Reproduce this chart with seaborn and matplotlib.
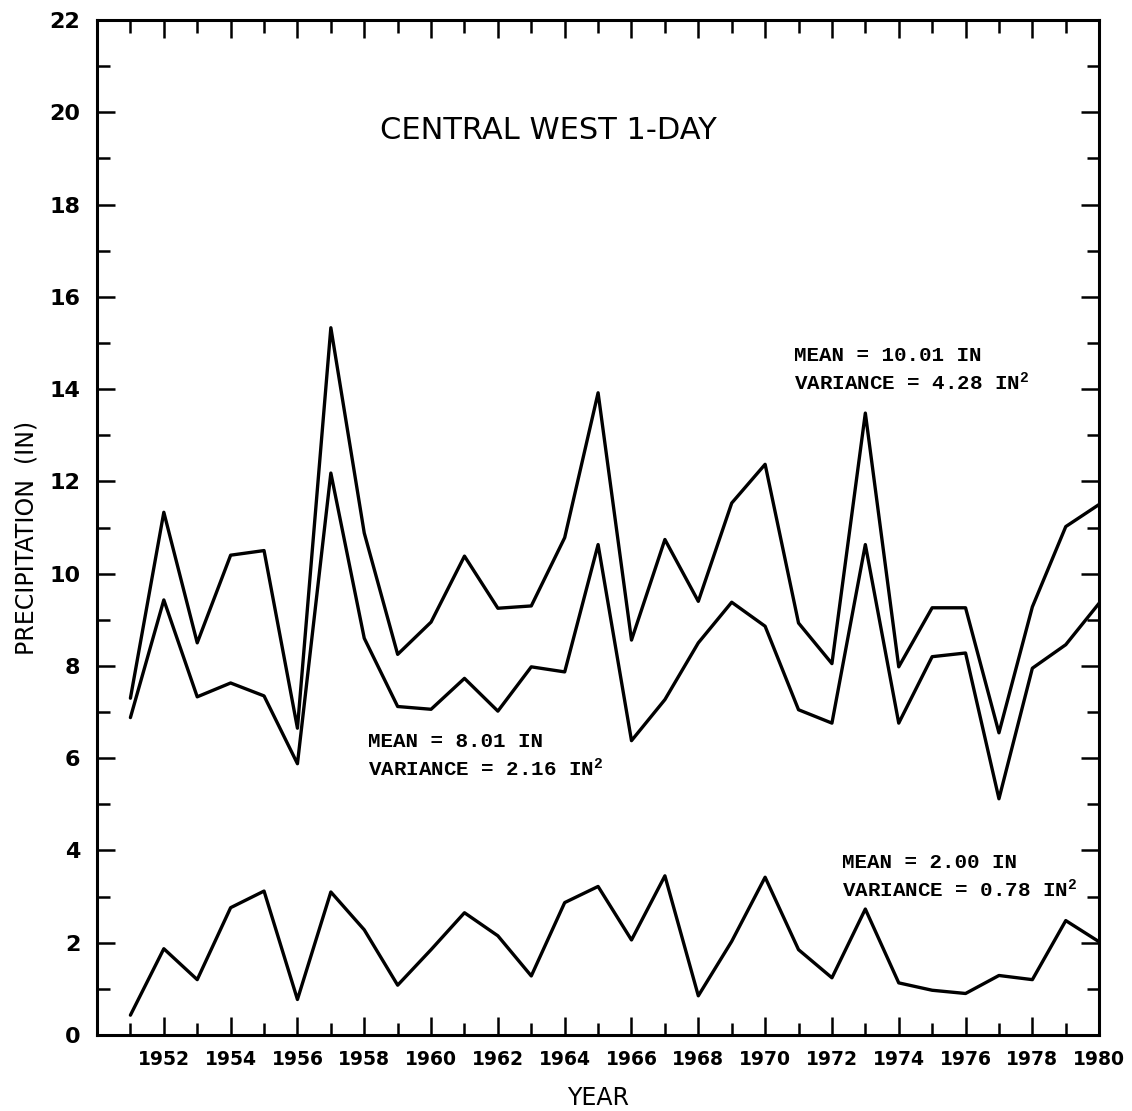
import numpy as np
import pandas as pd
import matplotlib
matplotlib.use("Agg")
import matplotlib.pyplot as plt
import seaborn as sns

years = list(range(1951, 1981))

# upper curve (mean 10.01 in)
upper = [7.3, 11.33, 8.5, 10.4, 10.5, 6.65, 15.33, 10.88, 8.25, 8.95,
         10.38, 9.25, 9.3, 10.78, 13.92, 8.56, 10.74, 9.4, 11.53, 12.37,
         8.93, 8.05, 13.48, 7.98, 9.26, 9.26, 6.55, 9.28, 11.02, 11.5]

# middle curve (mean 8.01 in)
middle = [6.88, 9.43, 7.33, 7.63, 7.35, 5.88, 12.18, 8.6, 7.12, 7.06,
          7.73, 7.02, 7.98, 7.87, 10.63, 6.38, 7.27, 8.5, 9.38, 8.86,
          7.05, 6.76, 10.63, 6.76, 8.2, 8.28, 5.12, 7.95, 8.46, 9.36]

# lower curve (mean 2.00 in)
lower = [0.43, 1.87, 1.2, 2.76, 3.12, 0.77, 3.1, 2.28, 1.08, 1.85,
         2.65, 2.15, 1.28, 2.87, 3.22, 2.06, 3.45, 0.85, 2.03, 3.42,
         1.85, 1.24, 2.73, 1.13, 0.97, 0.9, 1.29, 1.2, 2.48, 2.02]

notes = [
    (1970.85, 14.72, "MEAN = 10.01 IN", "VARIANCE = 4.28 IN$^2$"),
    (1958.1, 6.36, "MEAN = 8.01 IN", "VARIANCE = 2.16 IN$^2$"),
    (1972.3, 3.73, "MEAN = 2.00 IN", "VARIANCE = 0.78 IN$^2$"),
]

df = pd.DataFrame({
    "year": years * 3,
    "precip": upper + middle + lower,
    "series": ["upper"] * 30 + ["middle"] * 30 + ["lower"] * 30,
})

sns.set_style("ticks")
plt.rcParams["font.family"] = ["DejaVu Sans"]
plt.rcParams["mathtext.default"] = "regular"
plt.rcParams["text.color"] = "black"
plt.rcParams["axes.labelcolor"] = "black"
plt.rcParams["xtick.color"] = "black"
plt.rcParams["ytick.color"] = "black"
plt.rcParams["axes.edgecolor"] = "black"

fig = plt.figure(figsize=(11.32, 11.11), dpi=100)
ax = fig.add_axes([0.0857, 0.0684, 0.8853, 0.9136])

sns.lineplot(data=df, x="year", y="precip", hue="series",
             palette=["black", "black", "black"], linewidth=2.4,
             legend=False, ax=ax)

ax.set_xlim(1950, 1980)
ax.set_ylim(0, 22)
ax.set_xticks(range(1952, 1981, 2))
ax.set_xticks(range(1951, 1980, 2), minor=True)
ax.set_yticks(range(0, 23, 2))
ax.set_yticks(range(1, 22, 2), minor=True)

for s in ax.spines.values():
    s.set_linewidth(2.2)
    s.set_visible(True)
    s.set_color("black")

ax.tick_params(which="both", direction="in", top=True, right=True, width=1.8,
               color="black")
ax.tick_params(which="major", length=13)
ax.tick_params(which="minor", length=9)
ax.tick_params(axis="x", which="major", labelsize=13.5, pad=11)
ax.tick_params(axis="y", which="major", labelsize=16, pad=12)
for lab in ax.get_xticklabels() + ax.get_yticklabels():
    lab.set_fontweight("bold")

ax.set_xlabel("YEAR", fontsize=17)
ax.set_ylabel("PRECIPITATION  (IN)", fontsize=17, fontweight="medium")
ax.xaxis.set_label_coords(0.5, -0.05)
ax.yaxis.set_label_coords(-0.058, 0.49)

ax.text(1963.5, 19.6, "CENTRAL WEST 1-DAY", fontsize=22, ha="center",
        va="center")

for x, y, l1, l2 in notes:
    ax.text(x, y, l1, family="Liberation Mono", fontweight="bold",
            fontsize=15, ha="left", va="center")
    ax.text(x, y - 0.58, l2, family="Liberation Mono", fontweight="bold",
            fontsize=15, ha="left", va="center")

plt.savefig("out.png", dpi=100)
